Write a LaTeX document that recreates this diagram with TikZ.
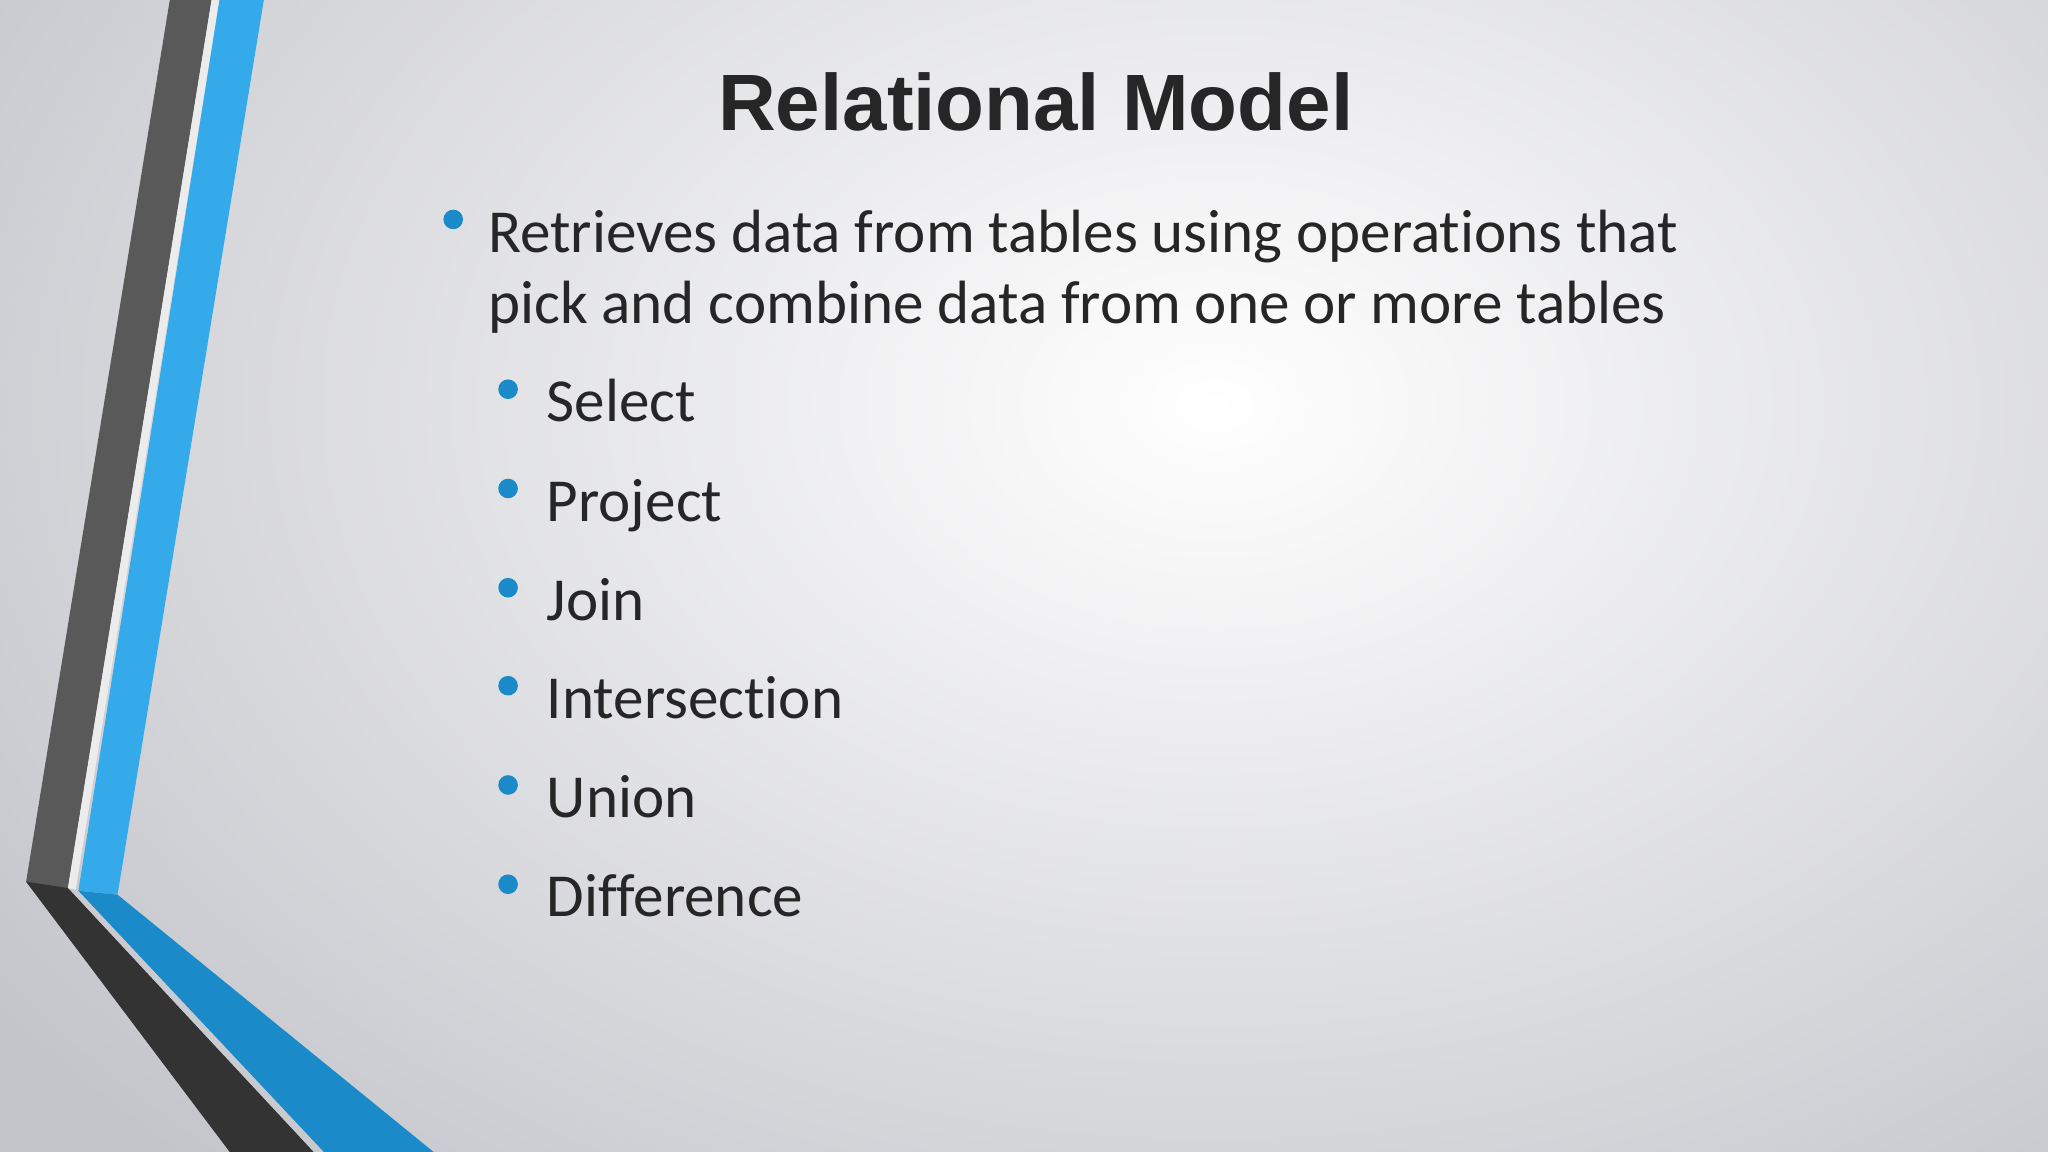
\documentclass[tikz,border=0pt]{standalone}
\usepackage{fontspec}
\setmainfont[Ligatures=NoCommon]{Carlito}
\newfontfamily\titlefont{Liberation Sans}
\begin{document}
\begin{tikzpicture}[x=0.01cm,y=-0.01cm,
  body/.style={anchor=base west,inner sep=0pt,text=black!85,font=\fontsize{13.3pt}{16pt}\selectfont},
  dot/.style={circle,fill=bulletblue,inner sep=0pt,minimum size=0.15cm}]
\definecolor{bulletblue}{HTML}{1A8AC8}
\definecolor{lightblue}{HTML}{35AAEB}
\definecolor{bgouter}{HTML}{C4C5CB}
\useasboundingbox (0,0) rectangle (1568,882);
\clip (0,0) rectangle (1568,882);
\fill[bgouter] (0,0) rectangle (1568,882);
\shade[inner color=white,outer color=bgouter] (930,310) ellipse [x radius=1150,y radius=800];
\fill[black!65] (130,0) -- (162,0) -- (52,680) -- (240,882) -- (176,882) -- (20,675) -- cycle;
\fill[black!80] (20,675) -- (52,680) -- (240,882) -- (176,882) -- cycle;
\fill[white!85!gray] (162,0) -- (168,0) -- (58,681) -- (52,680) -- cycle;
\fill[lightblue] (168,0) -- (202,0) -- (90,685) -- (60,682) -- cycle;
\fill[bulletblue] (60,682) -- (90,685) -- (332,882) -- (248,882) -- cycle;
\node[anchor=base,inner sep=0pt,text=black!85,font=\titlefont\bfseries\fontsize{17.4pt}{20pt}\selectfont] (title) at (793,100) {Relational Model};
\node[dot] (b0) at (347,168) {};
\node[body] (t0) at (373,193) {Retrieves data from tables using operations that};
\node[body] (t0b) at (373,248) {pick and combine data from one or more tables};
\foreach \y/\t [count=\i] in {323/Select,399/Project,475/Join,550/Intersection,626/Union,702/Difference}{
  \node[dot] (d\i) at (389,\y-25) {};
  \node[body] (s\i) at (418,\y) {\t};
}
\end{tikzpicture}
\end{document}
